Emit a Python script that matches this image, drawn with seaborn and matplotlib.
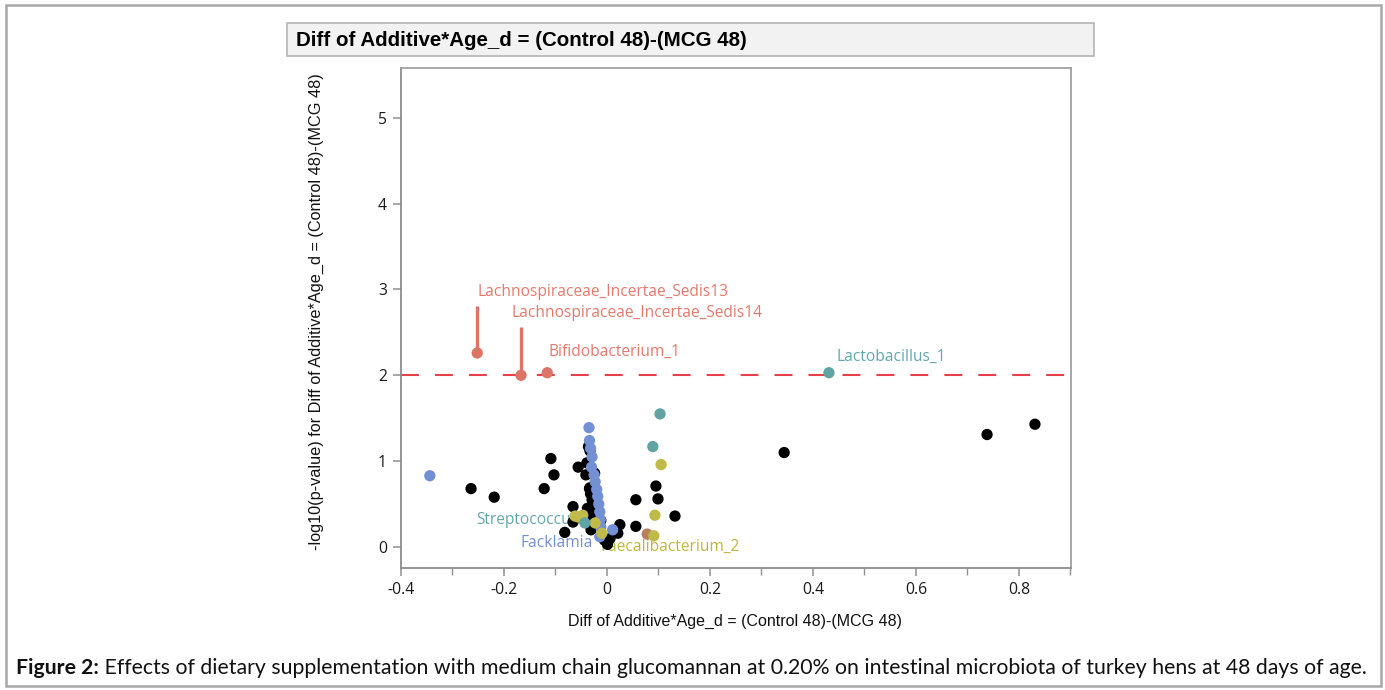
import numpy as np
import pandas as pd
import matplotlib
matplotlib.use("Agg")
import matplotlib.pyplot as plt
import matplotlib.patches as mpatches
import matplotlib.ticker as mticker
import seaborn as sns

# ---------------- data ----------------
red_x = [-0.252, -0.167, -0.116]
red_y = [2.26, 2.00, 2.03]

teal_x = [0.431, 0.103, 0.089, -0.043]
teal_y = [2.03, 1.55, 1.17, 0.28]

blue_x = [-0.344, -0.035, -0.034, -0.032, -0.029, -0.030, -0.025, -0.023, -0.020,
          -0.018, -0.016, -0.014, -0.013, -0.012, 0.011, -0.014]
blue_y = [0.83, 1.39, 1.24, 1.15, 1.05, 0.93, 0.84, 0.76, 0.67,
          0.59, 0.50, 0.41, 0.32, 0.23, 0.20, 0.12]

olive_x = [0.105, 0.093, 0.091, -0.047, -0.056, -0.023, -0.010, -0.062]
olive_y = [0.96, 0.37, 0.13, 0.37, 0.35, 0.28, 0.16, 0.36]

brown_x = [0.078]
brown_y = [0.15]

black_x = [-0.264, -0.219, -0.122, -0.109, -0.103, -0.056, 0.344, 0.738, 0.831,
           0.099, 0.095, 0.132, 0.056, 0.056, 0.025, 0.021, 0.006, 0.001,
           -0.036, -0.033, -0.039, -0.041, -0.024, -0.066, -0.027, -0.031,
           -0.018, -0.066, -0.082, -0.012, -0.024, -0.034, -0.032, -0.021,
           -0.005, -0.038, -0.031, -0.019, -0.029, -0.033, -0.035]
black_y = [0.68, 0.58, 0.68, 1.03, 0.84, 0.93, 1.10, 1.31, 1.43,
           0.56, 0.71, 0.36, 0.55, 0.24, 0.26, 0.16, 0.10, 0.03,
           1.17, 1.12, 0.98, 0.84, 0.86, 0.47, 0.54, 0.43,
           0.41, 0.29, 0.17, 0.31, 0.26, 0.68, 0.62, 0.36,
           0.08, 0.45, 0.20, 0.48, 0.55, 0.69, 0.31]

group_names = ["red", "teal", "blue", "olive", "brown", "black"]
palette = {"red": "#dd7566", "teal": "#5fa3a3", "blue": "#7390d4",
           "olive": "#c0ba48", "brown": "#b88060", "black": "#000000"}

labels = ["Lachnospiraceae_Incertae_Sedis13", "Lachnospiraceae_Incertae_Sedis14",
          "Bifidobacterium_1", "Lactobacillus_1", "Streptococcus", "Facklamia",
          "Faecalibacterium_2"]
label_x = [-0.252, -0.186, -0.113, 0.445, -0.254, -0.167, -0.012]
label_y = [2.97, 2.73, 2.27, 2.21, 0.31, 0.05, 0.00]
label_grp = ["red", "red", "red", "teal", "teal", "blue", "olive"]

stem_x = [-0.252, -0.167]
stem_y0 = [2.26, 2.00]
stem_y1 = [2.81, 2.56]

threshold = 2.0
x_ticks = [-0.4, -0.2, 0, 0.2, 0.4, 0.6, 0.8]
x_tick_labels = ["-0.4", "-0.2", "0", "0.2", "0.4", "0.6", "0.8"]
y_ticks = [0, 1, 2, 3, 4, 5]

title = "Diff of Additive*Age_d = (Control 48)-(MCG 48)"
xlabel = "Diff of Additive*Age_d = (Control 48)-(MCG 48)"
ylabel = "-log10(p-value) for Diff of Additive*Age_d = (Control 48)-(MCG 48)"
caption_bold = "Figure 2:"
caption_rest = " Effects of dietary supplementation with medium chain glucomannan at 0.20% on intestinal microbiota of turkey hens at 48 days of age."

# ---------------- build table ----------------
xs = [red_x, teal_x, blue_x, olive_x, brown_x, black_x]
ys = [red_y, teal_y, blue_y, olive_y, brown_y, black_y]
rows = []
for g, gx, gy in zip(group_names, xs, ys):
    for a, b in zip(gx, gy):
        rows.append({"diff": a, "logp": b, "grp": g})
df = pd.DataFrame(rows)
order = {"black": 0, "blue": 1, "brown": 2, "olive": 3, "teal": 4, "red": 5}
df["o"] = df["grp"].map(order)
df = df.sort_values("o", kind="stable")

# ---------------- figure ----------------
sns.set_theme(style="white")
plt.rcParams["font.family"] = ["Liberation Sans", "DejaVu Sans"]

W, H = 1385, 690
fig = plt.figure(figsize=(W / 100, H / 100), dpi=100)

def fx(px):
    return px / W

def fy(py):
    return 1 - py / H

# outer frame
fig.patches.append(mpatches.Rectangle((fx(6), fy(686)), fx(1381) - fx(6), fy(5) - fy(686),
                                      transform=fig.transFigure, fill=False,
                                      edgecolor="#a8a8a8", linewidth=1.8))
# title box
fig.patches.append(mpatches.Rectangle((fx(287), fy(56)), fx(1094) - fx(287), fy(23) - fy(56),
                                      transform=fig.transFigure, facecolor="#f2f2f2",
                                      edgecolor="#b4b4b4", linewidth=1.2))
fig.text(fx(296), fy(40), title, fontsize=14.8, fontweight="bold",
         family=["Liberation Sans"], ha="left", va="center", color="#000000")

ax = fig.add_axes([fx(401), fy(568), fx(1071) - fx(401), fy(68) - fy(568)])

sns.scatterplot(data=df, x="diff", y="logp", hue="grp", palette=palette,
                s=66, linewidth=0, edgecolor="none", legend=False, ax=ax, zorder=3)

ax.axhline(threshold, color="#e8404a", linewidth=1.5, dashes=(8.6, 7.7), zorder=2)

for sx, a, b in zip(stem_x, stem_y0, stem_y1):
    ax.plot([sx, sx], [a, b], color=palette["red"], linewidth=2.4, zorder=2,
            solid_capstyle="butt")

lab_colors = {"red": "#e37a6c", "teal": "#62a7ab", "blue": "#7390d4", "olive": "#bdb640"}
for t, lx, ly, g in zip(labels, label_x, label_y, label_grp):
    ax.text(lx, ly, t, color=lab_colors[g], fontsize=11.2, family=["Open Sans", "DejaVu Sans"],
            ha="left", va="center", zorder=2)

ax.set_xlim(-0.4, 0.901)
ax.set_ylim(-0.245, 5.58)
ax.set_xticks(x_ticks)
ax.set_xticklabels(x_tick_labels)
ax.xaxis.set_minor_locator(mticker.MultipleLocator(0.1))
ax.set_yticks(y_ticks)
ax.set_xlabel("")
ax.set_ylabel("")

for s in ax.spines.values():
    s.set_visible(True)
    s.set_color("#a0a0a0")
    s.set_linewidth(1.3)
ax.spines["left"].set_color("#8c8c8c")
ax.spines["bottom"].set_color("#8c8c8c")

ax.tick_params(axis="both", which="major", direction="out", length=6, width=1.1,
               color="#909090", labelsize=11.3, labelcolor="#1a1a1a", pad=4,
               bottom=True, left=True)
ax.tick_params(axis="x", which="minor", direction="out", length=5, width=1.0,
               color="#909090", bottom=True)
for lab in ax.get_xticklabels() + ax.get_yticklabels():
    lab.set_family(["Open Sans", "DejaVu Sans"])
# red tick at threshold
for tl, v in zip(ax.yaxis.get_major_ticks(), y_ticks):
    if v == threshold:
        tl.tick1line.set_color("#e8404a")

fig.text(fx(735), fy(621), xlabel, fontsize=11.5, ha="center", va="center",
         family=["Liberation Sans"], color="#111111")
fig.text(fx(316), fy(312), ylabel, fontsize=11.7, ha="center", va="center",
         rotation=90, family=["Liberation Sans"], color="#111111")

# caption
t1 = fig.text(fx(16), fy(668), caption_bold, fontsize=15.3, fontweight="bold",
              family=["Lato", "DejaVu Sans"], ha="left", va="center", color="#111111")
fig.canvas.draw()
bb = t1.get_window_extent()
fig.text(bb.x1 / W, fy(668), caption_rest, fontsize=15.3,
         family=["Lato", "DejaVu Sans"], ha="left", va="center", color="#111111")

fig.savefig("out.png", dpi=100)
